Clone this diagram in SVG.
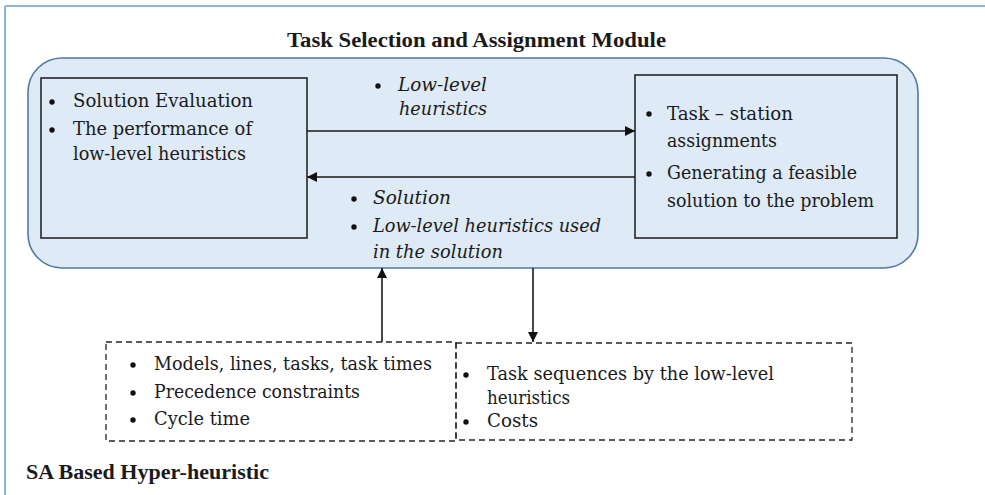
<svg xmlns="http://www.w3.org/2000/svg" width="985" height="495" viewBox="0 0 985 495" font-family="'DejaVu Serif','Liberation Serif',serif">
<defs>
<style>
text{font-family:"DejaVu Serif","Liberation Serif",serif;font-size:18px;fill:#1a1a1a}
text.b{font-family:"Liberation Serif","DejaVu Serif",serif;font-weight:bold;font-size:20px}
.i{font-style:italic}
.box{fill:none;stroke:#262626;stroke-width:1.6}
.dash{fill:none;stroke:#262626;stroke-width:1.3;stroke-dasharray:6,4}
.ln{stroke:#1a1a1a;stroke-width:1.6;fill:none}
.dot{fill:#111}
</style>
<marker id="ah" viewBox="0 0 10 10" refX="10" refY="5" markerWidth="10" markerHeight="10" markerUnits="userSpaceOnUse" orient="auto">
<path d="M0,0 L10,5 L0,10 z" fill="#111"/>
</marker>
</defs>
<rect width="985" height="495" fill="#fff"/>
<g id="frame">
<line x1="5" y1="6" x2="985" y2="6" stroke="#8db3e2" stroke-width="2"/>
<line x1="5" y1="6" x2="5" y2="495" stroke="#8db3e2" stroke-width="2"/>
<text class="b" x="287" y="47" textLength="379" lengthAdjust="spacingAndGlyphs">Task Selection and Assignment Module</text>
<text class="b" x="26" y="479" textLength="243" lengthAdjust="spacingAndGlyphs">SA Based Hyper-heuristic</text>
</g>
<g id="module">
<rect x="28" y="58" width="890" height="210" rx="34" ry="34" fill="#deeaf6" stroke="#4f79a6" stroke-width="1.6"/>
</g>
<g id="evaluation">
<rect class="box" x="41" y="78" width="266" height="160"/>
<circle class="dot" cx="52" cy="102" r="2.7"/>
<text x="73" y="107" textLength="180" lengthAdjust="spacingAndGlyphs">Solution Evaluation</text>
<circle class="dot" cx="52" cy="130" r="2.7"/>
<text x="73" y="135" textLength="179" lengthAdjust="spacingAndGlyphs">The performance of</text>
<text x="73" y="160" textLength="173" lengthAdjust="spacingAndGlyphs">low-level  heuristics</text>
</g>
<g id="assignment">
<rect class="box" x="635" y="75" width="262" height="163"/>
<circle class="dot" cx="649" cy="114" r="2.7"/>
<text x="667" y="120" textLength="126" lengthAdjust="spacingAndGlyphs">Task – station</text>
<text x="667" y="147" textLength="110" lengthAdjust="spacingAndGlyphs">assignments</text>
<circle class="dot" cx="649" cy="174" r="2.7"/>
<text x="667" y="179" textLength="190" lengthAdjust="spacingAndGlyphs">Generating a feasible</text>
<text x="667" y="207" textLength="207" lengthAdjust="spacingAndGlyphs">solution to the problem</text>
</g>
<g id="label-top">
<circle class="dot" cx="378" cy="86" r="2.7"/>
<text class="i" x="398" y="91" textLength="89" lengthAdjust="spacingAndGlyphs">Low-level</text>
<text class="i" x="399" y="115" textLength="88" lengthAdjust="spacingAndGlyphs">heuristics</text>
</g>
<g id="label-bottom">
<circle class="dot" cx="354" cy="199" r="2.7"/>
<text class="i" x="373" y="204" textLength="78" lengthAdjust="spacingAndGlyphs">Solution</text>
<circle class="dot" cx="354" cy="227" r="2.7"/>
<text class="i" x="373" y="232" textLength="228" lengthAdjust="spacingAndGlyphs">Low-level heuristics used</text>
<text class="i" x="373" y="258" textLength="130" lengthAdjust="spacingAndGlyphs">in the solution</text>
</g>
<g id="inputs">
<rect class="dash" x="106" y="342" width="350" height="99"/>
<circle class="dot" cx="133" cy="365" r="2.7"/>
<text x="154" y="370" textLength="278" lengthAdjust="spacingAndGlyphs">Models, lines, tasks, task times</text>
<circle class="dot" cx="133" cy="393" r="2.7"/>
<text x="154" y="398" textLength="206" lengthAdjust="spacingAndGlyphs">Precedence constraints</text>
<circle class="dot" cx="133" cy="420" r="2.7"/>
<text x="154" y="425" textLength="96" lengthAdjust="spacingAndGlyphs">Cycle time</text>
</g>
<g id="outputs">
<rect class="dash" x="456" y="343" width="396" height="97"/>
<circle class="dot" cx="466" cy="375" r="2.7"/>
<text x="487" y="380" textLength="287" lengthAdjust="spacingAndGlyphs">Task sequences by the low-level</text>
<text x="487" y="404" textLength="83" lengthAdjust="spacingAndGlyphs">heuristics</text>
<circle class="dot" cx="466" cy="422" r="2.7"/>
<text x="487" y="427" textLength="51" lengthAdjust="spacingAndGlyphs">Costs</text>
</g>
<g id="connectors">
<line class="ln" x1="307" y1="131" x2="635" y2="131" marker-end="url(#ah)"/>
<line class="ln" x1="635" y1="177" x2="307" y2="177" marker-end="url(#ah)"/>
<line class="ln" x1="382" y1="342" x2="382" y2="268" marker-end="url(#ah)"/>
<line class="ln" x1="533" y1="268" x2="533" y2="342" marker-end="url(#ah)"/>
</g>
</svg>
